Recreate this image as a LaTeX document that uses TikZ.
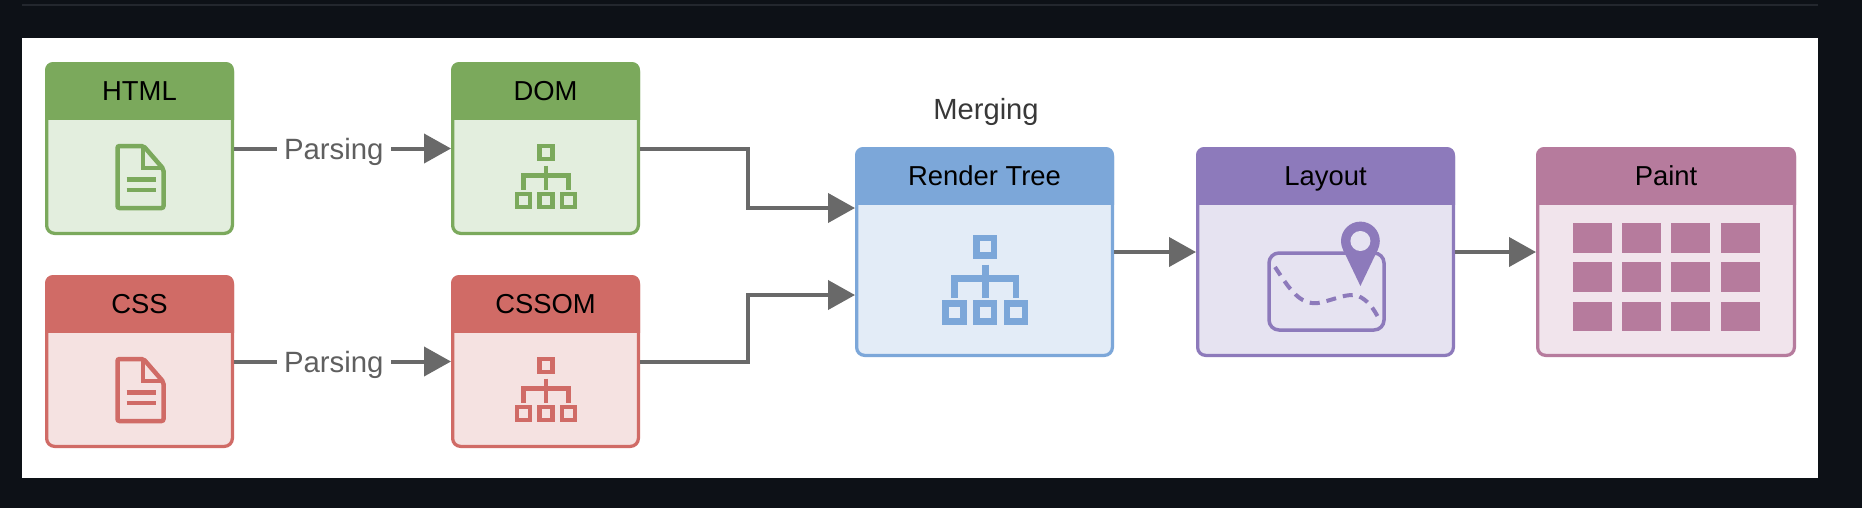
\documentclass[tikz,border=0pt]{standalone}
\usepackage{fontspec}
\setmainfont{Liberation Sans}
\usetikzlibrary{arrows.meta,calc}
\definecolor{pagedark}{HTML}{0D1117}
\definecolor{pagerule}{HTML}{23272E}
\definecolor{flowgray}{HTML}{696969}
\definecolor{greenline}{HTML}{7BA95C}
\definecolor{greenbody}{HTML}{E3EEDE}
\definecolor{redline}{HTML}{D06B66}
\definecolor{redbody}{HTML}{F5E2E1}
\definecolor{blueline}{HTML}{7CA7D9}
\definecolor{bluebody}{HTML}{E3ECF7}
\definecolor{purpleline}{HTML}{8D7ABB}
\definecolor{purplebody}{HTML}{E6E3F1}
\definecolor{pinkline}{HTML}{B67B9D}
\definecolor{pinkbody}{HTML}{F1E4EC}

\begin{document}
\begin{tikzpicture}[x=0.02cm,y=-0.02cm]
        \tikzset{
            flow/.style={-{Triangle[length=0.54cm, width=0.58cm]}, flowgray, line width=0.08cm},
            box/.style={draw, rounded corners=0.16cm, line width=0.065cm, inner sep=0},
            title/.style={black, font=\fontsize{15.6}{18}\selectfont, text height=11.2pt, text depth=0pt, inner sep=0},
            parsing/.style={fill=white, text=flowgray!90!black, font=\fontsize{16.7}{20}\selectfont, text height=12pt, text depth=0pt, inner xsep=0.15cm, inner ysep=0},
            iconline/.style={line width=0.09cm},
            doc/.pic={
                \draw[iconline, rounded corners=0.04cm] (-23,-31) -- (3,-31) -- (23,-8) -- (23,31) -- (-23,31) -- cycle;
                \draw[iconline] (2.5,-31) -- (2.5,-9) -- (23,-9);
                \draw[iconline] (-14,2.5) -- (15,2.5);
                \draw[iconline] (-14,13) -- (15,13);
            },
            tree/.pic={
                \draw[iconline] (-6.5,-30.5) rectangle (6.5,-17.5);
                \draw[iconline] (-29,17.5) rectangle (-16,30.5);
                \draw[iconline] (-6.5,17.5) rectangle (6.5,30.5);
                \draw[iconline] (16,17.5) rectangle (29,30.5);
                \draw[iconline] (0,-11) -- (0,13);
                \draw[iconline] (-22.5,13) -- (-22.5,-1) -- (22.5,-1) -- (22.5,13);
            }
        }
        \useasboundingbox (0,0) rectangle (1862,508);
        % page
        \fill[pagedark] (0,0) rectangle (1862,508);
        \fill[pagerule] (22,4) rectangle (1818,6);
        \fill[white] (22,38) rectangle (1818,478);

        % boxes with their headers
        \foreach \name/\txt/\cx/\cy/\w/\h/\edge/\body in {
            html/HTML/139.5/148.5/189/173/greenline/greenbody,
            dom/DOM/545.5/148.5/189/173/greenline/greenbody,
            css/CSS/139.5/361.5/189/173/redline/redbody,
            cssom/CSSOM/545.5/361.5/189/173/redline/redbody,
            render/Render Tree/984.5/252/259/210/blueline/bluebody,
            layout/Layout/1325.5/252/259/210/purpleline/purplebody,
            paint/Paint/1666/252/260/210/pinkline/pinkbody}{
            \node[box, draw=\edge, fill=\body, minimum width={(\w-3.25)*0.02cm}, minimum height={(\h-3.25)*0.02cm}] (\name) at (\cx,\cy) {};
            \fill[\edge] ([yshift=-1.16cm]\name.north west) [rounded corners=0.16cm] -- (\name.north west) -- (\name.north east) [sharp corners] -- ([yshift=-1.16cm]\name.north east) -- cycle;
            \node[title] (\name-title) at ([yshift=-0.57cm]\name.north) {\txt};
        }
        \node[title, text=black!78, font=\fontsize{16.6}{20}\selectfont] (merging) at (986,110) {Merging};

        % icons of the small boxes
        \begin{scope}[shift={(140.5,177)}, color=greenline]
            \pic {doc};
        \end{scope}
        \begin{scope}[shift={(140.5,390)}, color=redline]
            \pic {doc};
        \end{scope}
        \begin{scope}[shift={(546,176.5)}, color=greenline]
            \pic {tree};
        \end{scope}
        \begin{scope}[shift={(546,389.5)}, color=redline]
            \pic {tree};
        \end{scope}
        \begin{scope}[shift={(985.3,279.7)}, scale=1.37, color=blueline, iconline/.style={line width=0.13cm}]
            \pic[transform shape] {tree};
        \end{scope}

        % map with pin
        \draw[purpleline, line width=0.07cm, rounded corners=0.2cm] (1269,253) rectangle (1384,330);
        \draw[purpleline, line width=0.08cm, dash pattern=on 0.2cm off 0.14cm] (1275,267) .. controls (1290,290) and (1300,305) .. (1318,303) .. controls (1335,300) and (1352,290) .. (1362,298) .. controls (1370,303) and (1374,310) .. (1378,317);
        \fill[purpleline] (1360.4,241) circle (19.4);
        \fill[purpleline] (1342.9,249.4) -- (1360.4,286) -- (1377.9,249.4) -- cycle;
        \fill[purplebody] (1360.4,241) circle (10);

        % paint cells
        \foreach \i in {0,1,2,3}{
            \foreach \j in {0,1,2}{
                \fill[pinkline] (1572.7+\i*49.3,223+\j*39.3) rectangle ++(39,29.5);
            }
        }

        % arrows
        \draw[flow] (html.east) -- (dom.west) node[parsing, pos=0.46] (parse-html) {Parsing};
        \draw[flow] (css.east) -- (cssom.west) node[parsing, pos=0.46] (parse-css) {Parsing};
        \coordinate (merge-top) at (748,208);
        \coordinate (merge-low) at (748,295);
        \draw[flow] (dom.east) -| (merge-top) -- (merge-top -| render.west);
        \draw[flow] (cssom.east) -| (merge-low) -- (merge-low -| render.west);
        \draw[flow] (render.east) -- (layout.west);
        \draw[flow] (layout.east) -- (paint.west);
\end{tikzpicture}
\end{document}
